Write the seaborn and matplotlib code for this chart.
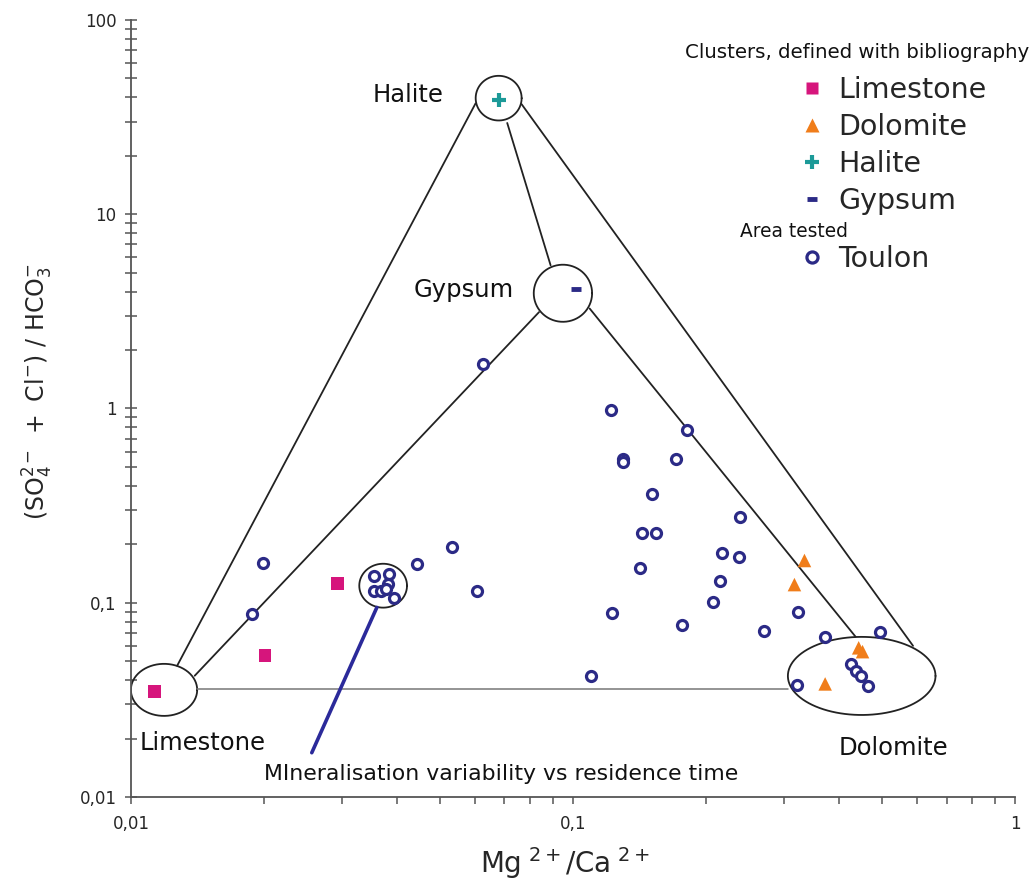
import numpy as np
import matplotlib.pyplot as plt
import matplotlib.ticker as mticker
from matplotlib.lines import Line2D
import seaborn as sns

# Point values (Mg/Ca vs (SO4+Cl)/HCO3)
limestone_x = [0.0113, 0.0201, 0.0293]
limestone_y = [0.0348, 0.0533, 0.126]

dolomite_x = [0.334, 0.317, 0.443, 0.452, 0.372]
dolomite_y = [0.165, 0.124, 0.0586, 0.056, 0.0382]

halite_x = [0.0679]
halite_y = [38.7]

gypsum_x = [0.1014]
gypsum_y = [4.1]

toulon_x = [0.0625, 0.0199, 0.0188,
            0.0354, 0.0383, 0.0381, 0.0354, 0.0367, 0.0377, 0.0393,
            0.0444, 0.0532, 0.0607,
            0.1218, 0.1807, 0.1297, 0.1297, 0.1714, 0.151, 0.143, 0.154,
            0.1417, 0.1225, 0.1764, 0.110,
            0.2388, 0.217, 0.238, 0.215, 0.207,
            0.3226, 0.271, 0.371, 0.494,
            0.4266, 0.4377, 0.449, 0.465, 0.321]
toulon_y = [1.69, 0.161, 0.0875,
            0.138, 0.141, 0.1253, 0.1153, 0.1153, 0.118, 0.106,
            0.158, 0.193, 0.115,
            0.985, 0.771, 0.551, 0.528, 0.551, 0.363, 0.2275, 0.2275,
            0.151, 0.089, 0.0768, 0.042,
            0.2754, 0.180, 0.171, 0.130, 0.1005,
            0.090, 0.0718, 0.0668, 0.0703,
            0.0483, 0.0446, 0.042, 0.0373, 0.0378]

# end-member zones: centre x, centre y, half width / half height (in decades)
zone_cx = [0.01188, 0.0679, 0.0949, 0.45, 0.0372]
zone_cy = [0.0356, 39.6, 3.92, 0.042, 0.1224]
zone_ax = [0.075, 0.052, 0.066, 0.167, 0.054]
zone_ay = [0.134, 0.115, 0.147, 0.201, 0.113]

# mixing lines between the zones
mix_x0 = [0.01272, 0.01394, 0.071, 0.0765, 0.1091]
mix_y0 = [0.0474, 0.0421, 29.5, 36.9, 3.27]
mix_x1 = [0.0602, 0.0838, 0.089, 0.588, 0.436]
mix_y1 = [37.2, 3.135, 5.46, 0.060, 0.0668]

base_x = [0.0141, 0.306]
base_y = [0.036, 0.036]

arrow_x = [0.036, 0.02565]
arrow_y = [0.0946, 0.0169]

c_lime = '#d6157c'
c_dolo = '#f07d1a'
c_hal = '#1c9a98'
c_navy = '#2b2a86'

sns.set_style('ticks')
plt.rcParams['font.family'] = ['DejaVu Sans']
plt.rcParams['mathtext.default'] = 'regular'

fig = plt.figure(figsize=(10.32, 8.89), dpi=100)
ax = fig.add_axes([0.1269, 0.1035, 0.8566, 0.874])
ax.set_xscale('log')
ax.set_yscale('log')

# zones drawn as ellipses in log space
t = np.linspace(0, 2 * np.pi, 200)
for cx, cy, a, b in zip(zone_cx, zone_cy, zone_ax, zone_ay):
    ax.plot(cx * 10 ** (a * np.cos(t)), cy * 10 ** (b * np.sin(t)),
            color='#222222', lw=1.3, zorder=2)

for x0, y0, x1, y1 in zip(mix_x0, mix_y0, mix_x1, mix_y1):
    ax.plot([x0, x1], [y0, y1], color='#222222', lw=1.3, zorder=2)
ax.plot(base_x, base_y, color='#777777', lw=1.1, zorder=2)
ax.plot(arrow_x, arrow_y, color='#2b2a9a', lw=2.6, zorder=2)

# points
sns.scatterplot(x=limestone_x, y=limestone_y, marker='s', color=c_lime,
                s=85, edgecolor='none', ax=ax, legend=False, zorder=3)
sns.scatterplot(x=dolomite_x, y=dolomite_y, marker='^', color=c_dolo,
                s=95, edgecolor='none', ax=ax, legend=False, zorder=3)
sns.scatterplot(x=halite_x, y=halite_y, marker='+', color=c_hal,
                s=110, linewidth=3, ax=ax, legend=False, zorder=3)
sns.scatterplot(x=gypsum_x, y=gypsum_y, marker='_', color=c_navy,
                s=60, linewidth=3.5, ax=ax, legend=False, zorder=3)
sns.scatterplot(x=toulon_x, y=toulon_y, marker='o', color=c_navy,
                facecolor='white', edgecolor=c_navy, s=52, linewidth=2.3,
                ax=ax, legend=False, zorder=4)

# labels of the zones
lab = dict(fontsize=17.5, color='#111111', ha='center', va='center')
ax.text(0.0423, 41, 'Halite', **lab)
ax.text(0.0566, 4.05, 'Gypsum', **lab)
ax.text(0.01452, 0.019, 'Limestone', **lab)
ax.text(0.5317, 0.01795, 'Dolomite', **lab)
ax.text(0.0689, 0.01315, 'MIneralisation variability vs residence time',
        fontsize=15.8, color='#111111', ha='center', va='center')

# axes
ax.set_xlim(0.01, 1)
ax.set_ylim(0.01, 100)
fmt = mticker.FuncFormatter(lambda v, p: f'{v:g}'.replace('.', ','))
ax.xaxis.set_major_locator(mticker.FixedLocator([0.01, 0.1, 1]))
ax.yaxis.set_major_locator(mticker.FixedLocator([0.01, 0.1, 1, 10, 100]))
ax.xaxis.set_major_formatter(fmt)
ax.yaxis.set_major_formatter(fmt)
ax.xaxis.set_minor_locator(mticker.LogLocator(base=10, subs=np.arange(2, 10)))
ax.yaxis.set_minor_locator(mticker.LogLocator(base=10, subs=np.arange(2, 10)))
ax.xaxis.set_minor_formatter(mticker.NullFormatter())
ax.yaxis.set_minor_formatter(mticker.NullFormatter())

ax.tick_params(axis='y', which='both', direction='inout', length=9,
               width=1.1, color='#555555', labelsize=12, pad=6)
ax.tick_params(axis='x', which='both', direction='out', length=5,
               width=1.1, color='#555555', labelsize=12, pad=8)
for side in ['top', 'right']:
    ax.spines[side].set_visible(False)
for side in ['left', 'bottom']:
    ax.spines[side].set_color('#555555')
    ax.spines[side].set_linewidth(1.3)

ax.set_xlabel(r'$Mg^{\ 2+}/Ca^{\ 2+}$', fontsize=20)
ax.xaxis.set_label_coords(0.491, -0.062)
ax.set_ylabel(r'$(SO_4^{2-}\ +\ Cl^{-})\ /\ HCO_3^{-}$', fontsize=17)
ax.yaxis.set_label_coords(-0.086, 0.522)

# legend
fig.text(0.831, 0.9415, 'Clusters, defined with bibliography',
         fontsize=14.2, ha='center', va='center', color='#111111')
fig.text(0.7694, 0.7394, 'Area tested',
         fontsize=13.4, ha='center', va='center', color='#111111')

h1 = [Line2D([], [], marker='s', ls='None', color=c_lime, markersize=9, mec='none'),
      Line2D([], [], marker='^', ls='None', color=c_dolo, markersize=9.5, mec='none'),
      Line2D([], [], marker='+', ls='None', color=c_hal, markersize=10, mew=3),
      Line2D([], [], marker='_', ls='None', color=c_navy, markersize=7, mew=3.5)]
leg1 = ax.legend(handles=h1, labels=['Limestone', 'Dolomite', 'Halite', 'Gypsum'],
                 loc='upper left', bbox_to_anchor=(0.773, 0.9145),
                 bbox_transform=fig.transFigure, frameon=False, fontsize=20.5,
                 handlelength=1.0, handletextpad=0.41, labelspacing=0.32,
                 borderpad=0, borderaxespad=0)
ax.add_artist(leg1)
h2 = [Line2D([], [], marker='o', ls='None', color=c_navy, mfc='white',
             markersize=8, mew=2.3)]
ax.legend(handles=h2, labels=['Toulon'],
          loc='upper left', bbox_to_anchor=(0.773, 0.7242),
          bbox_transform=fig.transFigure, frameon=False, fontsize=20.5,
          handlelength=1.0, handletextpad=0.41, labelspacing=0.32,
          borderpad=0, borderaxespad=0)

fig.savefig('out.png', dpi=100)
